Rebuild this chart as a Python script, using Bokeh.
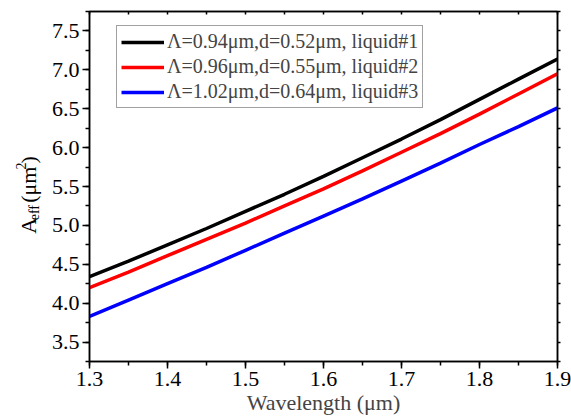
import math
from bokeh.plotting import figure
from bokeh.layouts import row
from bokeh.models import (Legend, LegendItem, LinearAxis, SingleIntervalTicker, Range1d,
                          PrintfTickFormatter)
from bokeh.core.properties import value
from bokeh.embed import file_html
from bokeh.resources import INLINE

# ---- data ----
wavelength = [1.30, 1.35, 1.40, 1.45, 1.50, 1.55, 1.60, 1.65, 1.70, 1.75, 1.80, 1.85, 1.90]
aeff_liquid1 = [4.34, 4.54, 4.75, 4.96, 5.18, 5.40, 5.63, 5.87, 6.11, 6.36, 6.62, 6.88, 7.14]
aeff_liquid2 = [4.20, 4.40, 4.61, 4.82, 5.03, 5.25, 5.47, 5.70, 5.94, 6.18, 6.43, 6.69, 6.95]
aeff_liquid3 = [3.83, 4.04, 4.25, 4.46, 4.68, 4.90, 5.12, 5.34, 5.57, 5.80, 6.04, 6.27, 6.51]
labels = ["Λ=0.94μm,d=0.52μm, liquid#1",
          "Λ=0.96μm,d=0.55μm, liquid#2",
          "Λ=1.02μm,d=0.64μm, liquid#3"]
colors = ["black", "#ff0000", "#0000ff"]

FONT = "Liberation Serif"
H = 419
LEFT_W = 48

p = figure(width=571 - LEFT_W, height=H, output_backend="svg", toolbar_location=None,
           x_range=Range1d(1.3, 1.9 + 1e-9), y_range=Range1d(3.25, 7.75),
           min_border_left=88 - LEFT_W, min_border_right=14, min_border_top=11,
           min_border_bottom=58)
p.background_fill_color = "white"
p.border_fill_color = "white"
p.outline_line_color = "black"
p.outline_line_width = 1.5
p.xgrid.visible = False
p.ygrid.visible = False

renderers = []
for ys, c in zip([aeff_liquid1, aeff_liquid2, aeff_liquid3], colors):
    r = p.line(wavelength, ys, line_color=c, line_width=3.5)
    renderers.append(r)

p.xaxis.ticker = SingleIntervalTicker(interval=0.1, num_minor_ticks=2)
p.yaxis.ticker = SingleIntervalTicker(interval=0.5, num_minor_ticks=2)
p.xaxis.formatter = PrintfTickFormatter(format="%.1f")
p.yaxis.formatter = PrintfTickFormatter(format="%.1f")
for axs in (p.xaxis, p.yaxis):
    axs.axis_line_width = 1.5
    axs.major_tick_line_width = 1.5
    axs.minor_tick_line_width = 1.5
    axs.major_tick_in = 0
    axs.major_tick_out = 7
    axs.minor_tick_in = 0
    axs.minor_tick_out = 4
    axs.major_label_text_font = FONT
    axs.major_label_text_font_size = "22px"
    axs.major_label_text_color = "black"
    axs.major_label_standoff = 3
p.xaxis.axis_label = "Wavelength (μm)"
p.xaxis.axis_label_text_font = FONT
p.xaxis.axis_label_text_font_size = "22px"
p.xaxis.axis_label_text_font_style = "normal"
p.xaxis.axis_label_standoff = 1

# mirror axes (ticks only)
top = LinearAxis(ticker=SingleIntervalTicker(interval=0.05, num_minor_ticks=0),
                 major_tick_in=3, major_tick_out=0, minor_tick_in=0, minor_tick_out=0,
                 axis_line_width=1.5, major_tick_line_width=1.5,
                 major_label_text_color=None, major_label_standoff=0)
right = LinearAxis(ticker=SingleIntervalTicker(interval=0.25, num_minor_ticks=0),
                   major_tick_in=0, major_tick_out=3, minor_tick_in=0, minor_tick_out=0,
                   axis_line_width=1.5, major_tick_line_width=1.5,
                   major_label_text_color=None, major_label_standoff=0)
p.add_layout(top, "above")
p.add_layout(right, "right")

# legend
items = [LegendItem(label=l, renderers=[r]) for l, r in zip(labels, renderers)]
legend = Legend(items=items, location=(27, 253), padding=4, spacing=2, margin=0,
                label_height=22, glyph_height=22, glyph_width=43, label_standoff=3,
                label_text_font=FONT, label_text_font_size="20px",
                border_line_color="#444444", border_line_width=1.2,
                background_fill_color="white", background_fill_alpha=1)
p.add_layout(legend)

# y-axis title drawn in a narrow side figure (pixel coordinates)
yf = figure(width=LEFT_W, height=H, output_backend="svg", toolbar_location=None,
            x_range=Range1d(0, LEFT_W), y_range=Range1d(0, H),
            x_axis_type=None, y_axis_type=None, min_border=0)
yf.outline_line_color = None
yf.xgrid.visible = False
yf.ygrid.visible = False
yf.background_fill_color = "white"
yf.border_fill_color = "white"

ytitle_parts = ["A", "eff", "(μm", "2", ")"]
ytitle_x = [28, 34, 28, 20, 28]          # baseline (image px)
ytitle_y = [266, 250, 229, 189, 182]     # start (image px, text runs upward)
ytitle_size = ["22px", "14px", "22px", "14px", "22px"]
for t, bx, sy, fs in zip(ytitle_parts, ytitle_x, ytitle_y, ytitle_size):
    yf.text(x=[bx], y=[H - sy], text=[t], angle=math.pi / 2,
            text_font=value(FONT), text_font_size=fs, text_align="left",
            text_baseline="alphabetic", text_color="black")

layout = row(yf, p, spacing=0)
open("out.html", "w").write(file_html(layout, INLINE))
